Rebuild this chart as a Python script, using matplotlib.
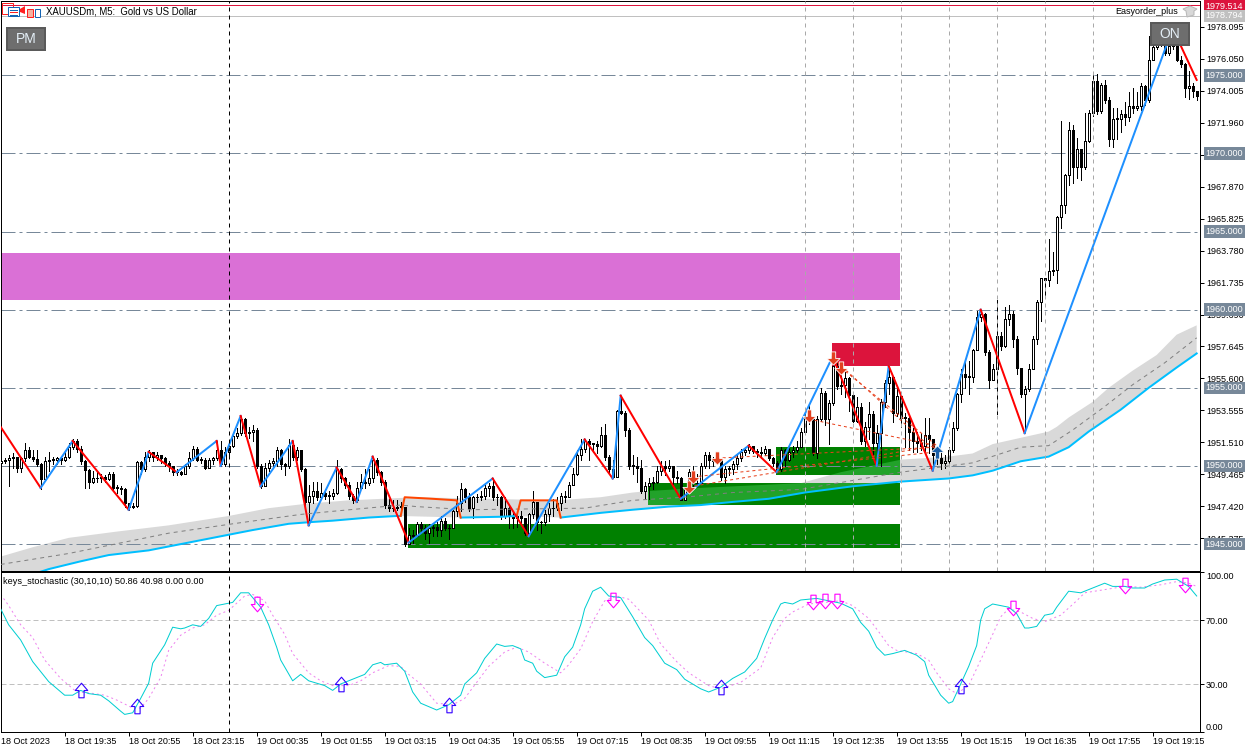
# XAUUSD M5 terminal screenshot: candles, zigzag, zones and a stochastic panel
import matplotlib
matplotlib.use('Agg')
import matplotlib.pyplot as plt
from matplotlib.patches import Rectangle, Polygon
from matplotlib.path import Path

plt.rcParams['font.family'] = ['Liberation Sans', 'DejaVu Sans']

closes = [
    1950.3,1950.4,1950.5,1950.6,1949.85,1950.5,1951.05,1950.6,1950.45,1950.15,
    1949.15,1950.3,1950.4,1950.4,1950.5,1950.4,1950.6,1951.2,1951.6,1951.1,
    1950.3,1949.75,1949.0,1949.25,1949.2,1949.3,1949.15,1949.5,1948.6,1948.6,
    1948.5,1947.6,1947.4,1947.45,1950.25,1949.8,1950.6,1950.9,1950.6,1950.7,
    1950.5,1950.2,1950.0,1949.6,1949.6,1949.5,1950.0,1950.5,1951.1,1950.4,
    1950.4,1949.9,1950.4,1950.5,1951.0,1950.1,1950.9,1951.3,1951.9,1952.1,
    1953.0,1952.1,1952.2,1952.3,1950.0,1948.7,1949.9,1950.2,1950.3,1951.0,
    1950.1,1950.0,1951.35,1950.6,1951.0,1949.8,1947.7,1948.1,1948.4,1948.0,
    1948.3,1948.1,1948.1,1948.3,1949.8,1949.2,1948.8,1948.1,1947.8,1948.6,
    1949.0,1948.9,1949.2,1950.4,1949.6,1949.0,1947.5,1947.3,1947.3,1947.4,
    1947.4,1945.0,1945.6,1945.5,1946.3,1946.05,1945.7,1946.0,1946.1,1945.9,
    1946.5,1946.0,1946.0,1947.1,1947.6,1948.5,1948.0,1947.3,1948.0,1948.0,
    1948.1,1948.6,1948.7,1948.0,1948.0,1946.8,1947.3,1946.8,1946.7,1946.8,
    1946.7,1945.7,1946.9,1947.7,1946.4,1946.4,1946.9,1947.3,1947.3,1947.6,
    1948.1,1948.0,1948.8,1949.5,1950.7,1951.1,1951.6,1951.4,1951.4,1951.3,
    1952.0,1950.6,1949.8,1949.3,1953.5,1953.4,1952.3,1950.0,1950.0,1949.9,
    1948.4,1948.7,1948.9,1949.0,1949.65,1950.0,1949.9,1950.0,1949.3,1949.2,
    1947.8,1948.5,1949.6,1948.9,1948.9,1950.0,1950.7,1950.4,1950.3,1950.4,
    1949.3,1949.8,1949.8,1950.1,1950.5,1950.9,1951.0,1951.3,1950.95,1950.9,
    1950.8,1951.1,1950.5,1950.2,1949.8,1951.0,1950.4,1950.9,1951.0,1951.2,
    1952.15,1953.1,1953.0,1950.85,1953.0,1954.7,1953.0,1954.0,1956.4,1955.1,
    1955.2,1955.6,1954.55,1952.9,1953.8,1951.6,1952.5,1953.3,1951.5,1952.1,
    1954.1,1955.3,1955.7,1953.4,1954.5,1953.1,1953.1,1952.2,1951.6,1951.5,
    1951.3,1952.0,1951.7,1950.7,1950.5,1950.2,1950.3,1951.0,1952.4,1954.6,
    1955.9,1955.7,1955.7,1957.4,1959.5,1959.7,1957.3,1955.5,1956.2,1958.3,
    1957.7,1959.4,1959.7,1958.1,1956.3,1954.6,1954.9,1956.2,1958.1,1960.5,
    1962.0,1961.9,1962.5,1962.55,1965.9,1966.7,1968.6,1971.5,1969.1,1970.3,
    1969.15,1970.8,1972.6,1974.6,1972.7,1974.4,1973.4,1970.9,1972.2,1972.2,
    1972.5,1972.3,1973.0,1972.9,1973.0,1974.3,1973.4,1976.0,1976.8,1977.2,
    1977.3,1976.4,1976.9,1977.6,1976.0,1975.7,1974.2,1974.3,1974.0,1973.7,
]
highs = [
    1950.4,1950.5,1950.7,1950.8,1950.6,1950.6,1951.45,1951.2,1951.0,1951.0,
    1950.2,1950.6,1950.9,1950.6,1950.6,1950.6,1950.9,1951.5,1951.7,1951.7,
    1951.3,1950.4,1949.8,1949.7,1949.6,1949.5,1949.4,1949.6,1949.6,1948.8,
    1948.7,1948.6,1947.6,1947.6,1950.3,1950.3,1950.9,1951.0,1950.9,1950.9,
    1950.7,1950.6,1950.3,1950.0,1949.8,1949.7,1950.1,1950.9,1951.3,1951.2,
    1950.6,1950.5,1950.5,1950.6,1951.6,1951.6,1951.2,1951.5,1952.1,1952.4,
    1953.2,1953.1,1952.5,1952.6,1952.4,1950.1,1950.2,1950.4,1950.5,1951.2,
    1951.1,1950.2,1951.7,1951.6,1951.2,1951.0,1949.9,1948.8,1949.0,1949.0,
    1948.9,1948.5,1948.4,1948.5,1950.4,1949.9,1949.3,1949.0,1948.2,1949.0,
    1949.5,1949.8,1949.8,1950.6,1950.5,1949.7,1949.1,1947.9,1947.8,1947.8,
    1947.7,1947.4,1946.0,1945.9,1946.4,1946.4,1946.2,1946.3,1946.2,1946.4,
    1946.8,1946.7,1946.2,1947.2,1948.1,1948.9,1948.6,1948.3,1948.1,1948.2,
    1948.4,1948.8,1948.9,1949.2,1948.2,1948.1,1948.0,1947.5,1947.0,1947.0,
    1947.1,1946.6,1947.0,1948.4,1947.7,1946.5,1947.2,1947.6,1947.9,1948.0,
    1948.3,1948.4,1949.0,1949.9,1951.0,1951.7,1951.7,1951.7,1951.5,1951.6,
    1952.5,1952.7,1950.7,1950.4,1953.6,1954.5,1953.5,1952.4,1950.7,1950.6,
    1950.4,1949.0,1949.2,1949.3,1950.0,1950.3,1950.3,1950.4,1950.0,1949.7,
    1949.3,1948.6,1949.8,1950.0,1949.5,1950.2,1950.9,1950.9,1950.6,1950.8,
    1950.4,1950.0,1950.0,1950.3,1950.7,1951.1,1951.2,1951.4,1951.3,1951.1,
    1951.2,1951.3,1951.1,1950.6,1950.3,1951.2,1951.1,1951.2,1951.3,1951.6,
    1952.4,1953.6,1953.9,1953.1,1953.2,1955.0,1954.8,1954.2,1956.9,1956.6,
    1956.2,1956.0,1955.7,1954.6,1954.4,1954.0,1952.8,1954.1,1953.5,1952.6,
    1954.3,1955.5,1956.4,1955.7,1955.0,1954.5,1953.4,1953.2,1952.4,1952.2,
    1952.1,1953.1,1953.1,1951.2,1951.1,1951.0,1950.7,1951.2,1952.8,1954.7,
    1956.2,1956.8,1956.7,1957.5,1959.9,1960.0,1959.8,1957.4,1956.5,1960.6,
    1958.6,1960.2,1960.3,1959.9,1958.3,1956.3,1955.1,1956.5,1958.3,1960.6,
    1962.0,1962.0,1964.5,1963.7,1966.0,1972.1,1968.7,1972.0,1971.8,1971.0,
    1970.3,1972.6,1972.8,1975.2,1975.1,1974.5,1974.7,1973.6,1972.9,1972.9,
    1972.8,1973.3,1973.9,1974.2,1973.9,1974.5,1974.4,1977.5,1977.9,1977.9,
    1978.0,1977.4,1977.6,1978.1,1977.4,1976.2,1975.8,1975.3,1974.5,1974.0,
]
lows = [
    1950.1,1950.2,1948.7,1949.9,1949.6,1949.6,1950.3,1950.5,1950.3,1950.0,
    1948.55,1949.1,1949.7,1950.1,1950.1,1950.1,1950.3,1950.5,1951.1,1950.9,
    1950.1,1948.6,1948.6,1948.9,1949.0,1949.0,1949.0,1949.1,1948.4,1948.3,
    1948.2,1947.4,1947.2,1947.3,1947.4,1949.5,1949.7,1950.3,1950.3,1950.4,
    1950.2,1950.0,1949.7,1949.4,1949.4,1949.4,1949.5,1949.9,1950.4,1950.3,
    1950.2,1949.8,1949.9,1950.1,1950.4,1950.0,1950.0,1950.7,1951.2,1951.8,
    1952.0,1951.9,1951.8,1951.6,1949.9,1948.6,1948.7,1949.7,1950.0,1950.0,
    1949.8,1949.4,1949.9,1950.4,1950.4,1949.7,1947.4,1946.2,1947.6,1947.8,
    1947.9,1947.9,1947.6,1947.9,1948.2,1949.0,1948.6,1947.9,1947.6,1947.7,
    1948.5,1948.6,1948.8,1949.0,1949.4,1948.8,1947.3,1947.1,1947.1,1947.2,
    1947.1,1944.9,1945.1,1945.1,1945.6,1945.8,1945.3,1945.1,1945.5,1945.5,
    1945.5,1945.9,1945.3,1946.0,1946.8,1947.1,1947.7,1947.1,1946.7,1947.7,
    1947.8,1947.9,1948.1,1947.8,1947.5,1946.6,1946.7,1946.0,1946.0,1946.1,
    1946.2,1945.6,1945.5,1946.7,1945.9,1945.7,1946.2,1946.5,1946.8,1947.2,
    1947.2,1947.7,1948.0,1948.8,1949.4,1950.4,1950.9,1950.4,1950.9,1950.8,
    1951.2,1950.4,1949.5,1949.2,1949.4,1953.3,1951.9,1949.8,1949.5,1949.0,
    1948.3,1947.9,1947.9,1948.5,1948.9,1949.4,1949.4,1949.7,1948.7,1948.9,
    1947.8,1947.8,1948.3,1948.7,1948.7,1948.9,1949.9,1949.9,1950.0,1950.1,
    1949.1,1948.9,1949.4,1949.5,1949.8,1950.3,1950.7,1950.8,1950.8,1950.6,
    1950.5,1950.7,1950.4,1950.0,1949.6,1949.7,1950.0,1950.3,1950.6,1950.9,
    1951.2,1952.1,1952.7,1950.7,1950.5,1952.9,1952.6,1951.4,1953.9,1954.9,
    1954.6,1954.4,1953.5,1952.8,1952.8,1951.4,1951.3,1951.7,1950.6,1950.1,
    1950.0,1953.8,1954.6,1952.8,1953.2,1952.5,1951.2,1951.0,1950.9,1950.9,
    1951.0,1950.9,1950.8,1949.8,1950.1,1949.8,1949.9,1950.2,1950.9,1952.3,
    1954.1,1955.0,1954.6,1955.4,1957.6,1959.3,1957.1,1955.0,1955.5,1953.3,
    1957.4,1957.6,1959.0,1957.6,1955.9,1954.4,1952.2,1954.8,1956.2,1957.8,
    1959.3,1960.9,1961.5,1962.2,1961.7,1965.2,1966.2,1968.0,1968.1,1968.4,
    1968.3,1969.0,1970.7,1972.4,1972.5,1972.6,1973.2,1970.5,1970.4,1970.9,
    1971.4,1971.8,1972.1,1972.6,1972.8,1972.8,1973.1,1973.3,1976.0,1976.7,
    1976.9,1976.3,1976.3,1976.7,1975.9,1975.5,1973.6,1973.5,1973.6,1973.4,
]
opens = [1950.2] + closes[:-1]
bars = list(range(len(closes)))

zz_bars = [0,10,18,32,37,44,54,55,60,65,73,77,84,89,93,102,123,132,146,153,155,170,187,194,208,219,222,233,245,256,293,299]
zz_vals = [1952.5,1948.6,1951.6,1947.2,1950.9,1949.6,1951.6,1950.0,1953.2,1948.7,1951.6,1946.2,1949.9,1947.7,1950.6,1945.1,
           1949.2,1945.5,1951.7,1949.2,1954.5,1947.9,1951.3,1949.6,1957.0,1950.0,1956.4,1949.7,1960.0,1952.1,1978.0,1974.7]

cyan1_k = [0,12,20,27,37,47,57,63,72,77,83,92,99,100]
cyan1_v = [1942.4,1943.4,1943.9,1944.3,1944.6,1945.1,1945.6,1945.9,1946.3,1946.4,1946.5,1946.7,1946.8,1946.8]
orange1_k = [100,101,108,114,115]
orange1_v = [1946.8,1948.0,1947.9,1947.8,1946.7]
cyan2_k = [115,125,129]
cyan2_v = [1946.7,1946.75,1946.8]
orange2_k = [129,130,139,140]
orange2_v = [1946.8,1947.8,1947.8,1946.7]
cyan3_k = [140,150,158,167,175,183,192,201,213,225,237,243,248,255,262,267,272,280,287,294,299]
cyan3_v = [1946.7,1947.0,1947.2,1947.4,1947.5,1947.7,1947.9,1948.3,1948.7,1949.0,1949.2,1949.4,1949.7,1950.3,1950.6,1951.2,1952.2,1953.6,1955.0,1956.3,1957.2]

band_up_k = [0,8,17,29,42,57,67,77,87,104,139,150,158,162,175,200,210,225,237,243,248,255,262,264,267,273,277,283,289,294,299]
band_up_v = [1944.2,1944.8,1945.4,1945.8,1946.2,1946.8,1947.3,1947.6,1947.8,1948.0,1947.8,1948.0,1948.3,1948.4,1948.6,1948.9,1949.6,
             1950.4,1950.6,1950.8,1951.4,1951.8,1952.2,1952.5,1953.1,1954.1,1955.0,1956.1,1957.1,1958.4,1959.0]
mid_k = [0,17,42,58,75,83,100,104,117,146,158,171,183,200,225,243,255,262,268,276,283,291,299]
mid_v = [1943.7,1944.4,1945.7,1946.3,1946.9,1947.1,1947.5,1947.4,1947.2,1947.3,1947.8,1948.0,1948.3,1948.5,1949.6,1950.2,1951.2,1951.3,1952.3,1953.8,1955.2,1956.6,1958.2]

# zones: left bar, right bar, low, high
orchid_zone = (0.08, 224.8, 1960.62, 1963.63)
red_zone = (207.8, 224.8, 1956.4, 1957.87)
green_zones = [(101.8, 224.8, 1944.75, 1946.3), (161.8, 224.8, 1947.5, 1948.9), (193.8, 224.8, 1949.4, 1951.2)]

level_prices = [1975, 1970, 1965, 1960, 1955, 1950, 1945]
session_bars = [201, 213, 225, 237, 249, 261, 273]
cross_bar = 57
price_ticks = [1978.095,1976.050,1974.005,1971.960,1969.915,1967.870,1965.825,1963.780,1961.735,1959.690,1957.645,1955.600,1953.555,1951.510,1949.465,1947.420,1945.375]

# fan lines: bar from, price from, bar to, price to
fan_lines = [(172,1948.66,234,1951.3),(173,1949.3,234,1950.9),(179,1950.5,234,1951.2),
             (202,1953.0,234,1951.3),(208,1956.9,232,1951.3),(210,1956.3,234,1951.3)]
sell_k = [172,173,179,202,208,210]
sell_v = [1948.66,1949.3,1950.5,1953.2,1956.9,1956.3]
buy_k = [234]
buy_v = [1950.9]

stoch_k = [0,2,5,8,12,16,18,20,22,25,27,30,31,33,35,37,38,41,43,45,46,48,50,52,54,58,60,62,65,67,69,70,73,75,77,81,83,85,88,91,93,95,96,99,101,103,105,
           109,112,115,116,119,121,123,124,126,128,130,131,133,134,136,139,141,143,145,146,148,150,152,155,158,161,163,166,169,171,175,177,180,183,186,189,191,193,195,196,198,200,204,
           210,213,215,217,219,221,223,226,229,231,232,235,237,238,240,242,244,245,246,248,250,252,254,256,257,259,261,263,264,267,270,273,276,278,281,283,286,288,291,294,297,299]
stoch_v = [77,67,57.5,44,31.5,23,23,26,24,23,19.5,13,11,12,21,30.5,43,54.5,65.5,64.5,65,67,66,71,79,81,87,87,78,67,53,45,32,36,32,29,26,30,33,36,42,43.5,42,43,38,25,18,
           13.75,17,23,30,37,46,52,55,53.5,54,52,45,43,38,34,35.5,47,53,67,77,88,90.5,85,84,72,59,54,43,39,33,27,25,28,33.5,37.5,46,58.5,70,80,81,80,82.5,83.5,
           80.5,77,68.5,63,53,48,49,51,48,44,35.5,23,18,19,30,41,54,70,77,80,79,78,74,65,65,66,73,74,78,88,87,90,93,91,91,90,90,92.5,95,95.5,91,85]
signal_k = [0,2,5,8,11,15,19,22,26,29,33,35,37,40,42,45,48,51,54,57,61,63,66,68,71,73,77,80,83,87,90,93,97,100,102,105,
            109,113,116,119,122,126,129,132,136,140,142,145,148,151,154,157,162,165,169,172,177,180,185,190,193,196,198,202,210,
            213,217,220,222,224,229,232,234,237,239,242,245,248,250,252,255,258,261,265,269,271,276,281,285,290,294,297,299]
signal_v = [86,79,67,59,45,33.5,25,24.5,23,20,15,15,21,34,51,60.5,65,67,73,76,85,86,82,73,61,49,37,32,29,29,32,37,41.5,41,36,30,
            18,17,21,31,41,50,53,50,43,37,42,52,69,82,85,83,70,55,44,37,29,27,31,40,59,71,75,80,82,
            79,71,61,54,51,49,45,37,27,24,29,45,61,72,77,75,71,69,73,82,87,89,91,90.5,92,94,93,91]
up_k = [20,34,85,112,180,240]
up_v = [26,16.5,29.7,17,28.4,29]
down_k = [64,153,203,206,209,253,281,296]
down_v = [80.3,82.8,81,82,81.6,77.5,91,92]

date_labels = ['18 Oct 2023','18 Oct 19:35','18 Oct 20:55','18 Oct 23:15','19 Oct 00:35','19 Oct 01:55','19 Oct 03:15','19 Oct 04:35',
               '19 Oct 05:55','19 Oct 07:15','19 Oct 08:35','19 Oct 09:55','19 Oct 11:15','19 Oct 12:35','19 Oct 13:55','19 Oct 15:15',
               '19 Oct 16:35','19 Oct 17:55','19 Oct 19:15']

W, H = 1259, 751
FS = 6.5
px = 0.72  # one pixel in points at dpi 100

fig = plt.figure(figsize=(W / 100, H / 100), dpi=100, facecolor='white')

def place(left, top, right, bottom):
    return fig.add_axes([left / W, 1 - bottom / H, (right - left) / W, (bottom - top) / H])

ax = place(1, 1, 1200, 571)
ax2 = place(1, 572, 1200, 732)
ax.set_xlim(0.0825, 299.83)
ax2.set_xlim(0.0825, 299.83)
ax.set_ylim(1943.28, 1979.75)
ax2.set_ylim(0, 100)

# zones
def zone(a, z, color, zorder=1):
    r = Rectangle((z[0], z[2]), z[1] - z[0], z[3] - z[2], facecolor=color, edgecolor='none', zorder=zorder)
    a.add_patch(r)
    return r

zone(ax, orchid_zone, '#DA70D6')
zone(ax, red_zone, '#DC143C')
green_patches = [zone(ax, z, '#008000') for z in green_zones]

# grey band, a lighter green where it crosses the green zones
band_low_k = cyan1_k + cyan2_k + cyan3_k
band_low_v = cyan1_v + cyan2_v + cyan3_v
band_x = band_up_k + band_low_k[::-1]
band_y = band_up_v + band_low_v[::-1]
ax.fill(band_x, band_y, color='#D9D9D9', lw=0, zorder=0.5)
for p in green_patches[1:]:
    over = ax.fill(band_x, band_y, color='#22A22A', lw=0, zorder=1.5)[0]
    over.set_clip_path(p)

# candles
ax.vlines(bars, lows, highs, color='black', lw=px, zorder=3, antialiased=False)
bottoms = [min(o, c) for o, c in zip(opens, closes)]
heights = [max(abs(c - o), 0.04) for o, c in zip(opens, closes)]
faces = ['white' if c >= o else 'black' for o, c in zip(opens, closes)]
ax.bar(bars, heights, bottom=bottoms, width=0.5, color=faces, edgecolor='black', lw=px, zorder=3.1, antialiased=False)

ax.plot(mid_k, mid_v, color='#808080', lw=px, ls=(0, (4, 4)), zorder=3.5)
for k, v in [(cyan1_k, cyan1_v), (cyan2_k, cyan2_v), (cyan3_k, cyan3_v)]:
    ax.plot(k, v, color='#00BFFF', lw=2 * px, zorder=4)
for k, v in [(orange1_k, orange1_v), (orange2_k, orange2_v)]:
    ax.plot(k, v, color='#FF4500', lw=2 * px, zorder=4)

# zigzag
for i in range(len(zz_bars) - 1):
    col = '#1E90FF' if zz_vals[i + 1] > zz_vals[i] else '#FF0000'
    ax.plot(zz_bars[i:i + 2], zz_vals[i:i + 2], color=col, lw=2 * px, zorder=5)

for f in fan_lines:
    ax.plot([f[0], f[2]], [f[1], f[3]], color='#E8401C', lw=px, ls=(0, (3, 3)), zorder=5.5)

arrow_up = Path([(-2, -6), (2, -6), (2, 0), (6, 0), (0, 6), (-6, 0), (-2, 0), (-2, -6)], closed=True)
arrow_down = Path([(-2, 6), (2, 6), (2, 0), (6, 0), (0, -6), (-6, 0), (-2, 0), (-2, 6)], closed=True)
ax.plot(sell_k, sell_v, ls='', marker=arrow_down, ms=9.5, mfc='#E2401F', mec='white', mew=0.6, zorder=6)
ax.plot(buy_k, buy_v, ls='', marker=arrow_up, ms=9.5, mfc='#1B5FA8', mec='white', mew=0.6, zorder=6)

# levels and session lines
for p in level_prices:
    ax.axhline(p, color='#778899', lw=px, ls=(0, (14, 4, 3, 4)), zorder=2.5)
    ax.annotate('%.3f' % p, xy=(1, p), xycoords=ax.get_yaxis_transform(), xytext=(5.5 * px, 0), textcoords='offset points',
                fontsize=FS, color='white', va='center', ha='left', zorder=10, annotation_clip=False,
                bbox=dict(boxstyle='square,pad=0.2', fc='#778899', ec='none'))
for b in session_bars:
    ax.axvline(b, color='#A9A9A9', lw=px, ls=(0, (4, 4)), zorder=7)
ax.axhline(1979.514, color='#DC143C', lw=px, zorder=2.5)
ax.axhline(1978.794, color='#C0C0C0', lw=px, zorder=2.5)
for val, col in [(1979.4, '#DC143C'), (1978.794, '#C0C0C0')]:
    ax.annotate('%.3f' % (1979.514 if col == '#DC143C' else val), xy=(1, val), xycoords=ax.get_yaxis_transform(), xytext=(5.5 * px, 0),
                textcoords='offset points', fontsize=FS, color='white', va='center', ha='left', zorder=10, annotation_clip=False,
                bbox=dict(boxstyle='square,pad=0.2', fc=col, ec='none'))
ax.axvline(cross_bar, color='black', lw=px, ls=(0, (4, 4)), zorder=7)
ax2.axvline(cross_bar, color='black', lw=px, ls=(0, (4, 4)), zorder=7)

# stochastic panel
for lvl in [70, 30]:
    ax2.axhline(lvl, color='#C0C0C0', lw=px, ls=(0, (5, 3)), zorder=1)
ax2.plot(signal_k, signal_v, color='#EE82EE', lw=px, ls=(0, (2, 3)), zorder=2)
ax2.plot(stoch_k, stoch_v, color='#00CED1', lw=px, zorder=3)
hollow_up = Path([(-2.5, -7), (2.5, -7), (2.5, 0), (6, 0), (0, 7), (-6, 0), (-2.5, 0), (-2.5, -7)], closed=True)
hollow_down = Path([(-2.5, 7), (2.5, 7), (2.5, 0), (6, 0), (0, -7), (-6, 0), (-2.5, 0), (-2.5, 7)], closed=True)
ax2.plot(up_k, up_v, ls='', marker=hollow_up, ms=10.5, mfc='none', mec='#3300FF', mew=0.8, zorder=4)
ax2.plot(down_k, down_v, ls='', marker=hollow_down, ms=10.5, mfc='none', mec='#FF00FF', mew=0.8, zorder=4)

# axes
for a in (ax, ax2):
    a.set_facecolor('none' if a is ax else 'white')
    for s in a.spines.values():
        s.set_linewidth(px)
        s.set_color('black')
    a.yaxis.tick_right()
    a.tick_params(axis='y', length=4 * px, width=px, pad=2 * px, labelsize=FS, colors='black')

ax.set_xticks([])
ax.set_yticks(price_ticks)
ax.set_yticklabels(['%.3f' % t for t in price_ticks])

ax2.set_yticks([0, 30, 70, 100])
ax2.set_yticklabels(['0.00', '30.00', '70.00', '100.00'])
labels2 = ax2.get_yticklabels()
labels2[0].set_va('bottom')
labels2[3].set_va('top')

date_ticks = [16 * i for i in range(len(date_labels))]
ax2.set_xticks(date_ticks[1:])
ax2.set_xticklabels([])
ax2.tick_params(axis='x', length=4 * px, width=px)
for t, lab in zip(date_ticks, date_labels):
    ax2.annotate(lab, xy=(t, 0), xycoords=('data', 'axes fraction'), xytext=(0, -9 * px), textcoords='offset points',
                 fontsize=FS, ha='left', va='center', annotation_clip=False)

ax2.text(2 / 1199, 1 - 9 / 160, 'keys_stochastic (30,10,10) 50.86 40.98 0.00 0.00', transform=ax2.transAxes, fontsize=6.55, va='center', zorder=9)

# screenshot furniture drawn in pixel space
top = fig.add_axes([0, 0, 1, 1], zorder=20, facecolor='none')
top.set_xlim(0, W)
top.set_ylim(H, 0)
top.axis('off')
top.text(46, 11, 'XAUUSDm, M5:  Gold vs US Dollar', fontsize=6.9, va='center')
top.text(1115, 11, 'Easyorder_plus', fontsize=FS, va='center')
top.add_patch(Polygon([(1183, 9), (1190, 6), (1197, 9), (1194, 11), (1194, 15), (1187, 17), (1186, 11)], fc='#D8D8D8', ec='#B8B8B8', lw=px))

def button(x, y, w, h, s):
    top.add_patch(Rectangle((x, y), w, h, fc='#6E6E6E', ec='#5A5A5A', lw=2 * px))
    top.text(x + w / 2, y + h / 2, s, color='#E4EEF6', fontsize=10, ha='center', va='center')

button(7, 28, 38, 22, 'PM')
button(1151, 23, 38, 22, 'ON')

# toolbar icons
top.add_patch(Rectangle((2, 3), 11, 11, fc='none', ec='#FF2020', lw=px))
top.add_patch(Rectangle((8, 7), 11, 9, fc='white', ec='#1464B4', lw=px))
top.plot([10, 17], [9.5, 9.5], color='#1464B4', lw=px)
top.plot([10, 17], [12, 12], color='#FF2020', lw=px)
top.plot([10, 17], [14.5, 14.5], color='#1464B4', lw=px)
top.add_patch(Polygon([(20, 9), (25, 6), (25, 14), (20, 12)], fc='#FF2020', ec='none'))
top.add_patch(Rectangle((27, 9), 6, 8, fc='#F4B0A0', ec='#FF2020', lw=px))
top.add_patch(Rectangle((35, 9), 5, 8, fc='white', ec='#1464B4', lw=px))

fig.savefig('out.png', dpi=100)
